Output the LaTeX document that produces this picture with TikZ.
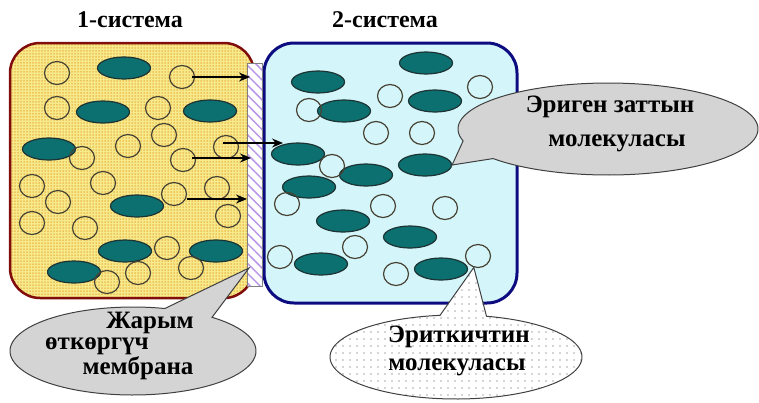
\documentclass[tikz,border=0pt]{standalone}
\usepackage{fontspec}
\setmainfont{Liberation Serif}
\usetikzlibrary{shapes.geometric,arrows.meta,patterns.meta}

\definecolor{boxyellow}{RGB}{246,234,140}
\definecolor{dotorange}{RGB}{228,160,40}
\definecolor{boxred}{RGB}{128,12,12}
\definecolor{boxcyan}{RGB}{212,246,250}
\definecolor{boxblue}{RGB}{12,12,128}
\definecolor{solute}{RGB}{12,112,112}
\definecolor{soluteedge}{RGB}{30,52,52}
\definecolor{ringedge}{RGB}{72,66,52}
\definecolor{hatchviolet}{RGB}{186,150,232}
\definecolor{calloutgray}{RGB}{212,212,212}

\tikzset{
  system1/.style={rectangle, rounded corners=30pt, draw=boxred, line width=2.5pt,
    preaction={fill=boxyellow}, pattern={Dots[distance=3pt,radius=0.75pt]},
    pattern color=dotorange, minimum width=244pt, minimum height=255pt, inner sep=0pt},
  system2/.style={rectangle, rounded corners=30pt, draw=boxblue, line width=3pt,
    fill=boxcyan, minimum width=253pt, minimum height=260pt, inner sep=0pt},
  membrane/.style={rectangle, draw=gray, line width=0.8pt, preaction={fill=white},
    pattern={Lines[angle=-45,distance=7pt,line width=1.5pt]}, pattern color=hatchviolet,
    minimum width=15pt, minimum height=223pt, inner sep=0pt},
  solute/.style={ellipse, draw=soluteedge, line width=1.2pt, fill=solute,
    minimum width=53pt, minimum height=22pt, inner sep=0pt},
  solvent/.style={ellipse, draw=ringedge, line width=1.2pt,
    minimum width=25pt, minimum height=23pt, inner sep=0pt},
  flow/.style={line width=1.3pt, -{Stealth[length=11pt,width=9pt]}},
  bubblegray/.style={draw=black!75, line width=1pt, fill=calloutgray},
  bubbledots/.style={draw=black!75, line width=1pt, preaction={fill=white},
    pattern={Dots[distance=7pt,radius=0.6pt]}, pattern color=black!70},
  caption/.style={font=\fontsize{25}{28}\selectfont\bfseries, inner sep=0pt, anchor=base},
  heading/.style={font=\fontsize{24}{28}\selectfont\bfseries, inner sep=0pt, anchor=base}
}

\begin{document}
\begin{tikzpicture}[x=1pt,y=-1pt]
\useasboundingbox (0,0) rectangle (759,402);

% headings
\node[heading] (h1) at (130,27) {1-система};
\node[heading] (h2) at (385,27) {2-система};

% the two compartments and the membrane between them
\node[system1] (sys1) at (132,170.5) {};
\node[system2] (sys2) at (390.5,173) {};
\node[membrane] (mem) at (254.5,174.5) {};

% compartment 1: solute molecules
\node[solute] (e1) at (124,68) {};
\node[solute] (e2) at (103,112) {};
\node[solute] (e3) at (210,111) {};
\node[solute] (e4) at (49,149) {};
\node[solute] (e5) at (137,206) {};
\node[solute] (e6) at (125,251) {};
\node[solute] (e7) at (216,251) {};
\node[solute] (e8) at (74,272) {};

% compartment 1: solvent molecules
\node[solvent] (c1) at (57,73) {};
\node[solvent] (c2) at (182,77) {};
\node[solvent] (c3) at (57,108) {};
\node[solvent] (c4) at (158,108) {};
\node[solvent] (c5) at (164,135) {};
\node[solvent] (c6) at (128,146) {};
\node[solvent] (c7) at (82,158) {};
\node[solvent] (c8) at (226,147) {};
\node[solvent] (c9) at (183,160) {};
\node[solvent] (c10) at (32,186) {};
\node[solvent] (c11) at (103,183) {};
\node[solvent] (c12) at (217,188) {};
\node[solvent] (c13) at (58,202) {};
\node[solvent] (c14) at (174,194) {};
\node[solvent] (c15) at (32,223) {};
\node[solvent] (c16) at (85,228) {};
\node[solvent] (c17) at (228,216) {};
\node[solvent] (c18) at (167,248) {};
\node[solvent] (c19) at (107,282) {};
\node[solvent] (c20) at (138,273) {};
\node[solvent] (c21) at (191,268) {};

% compartment 2: solute molecules
\node[solute] (r1) at (426,63) {};
\node[solute] (r2) at (318,82) {};
\node[solute] (r3) at (435,101) {};
\node[solute] (r4) at (344,111) {};
\node[solute] (r5) at (298,154) {};
\node[solute] (r6) at (366,175) {};
\node[solute] (r7) at (425,165) {};
\node[solute] (r8) at (309,187) {};
\node[solute] (r9) at (343,221) {};
\node[solute] (r10) at (410,237) {};
\node[solute] (r11) at (321,264) {};
\node[solute] (r12) at (441,269) {};

% compartment 2: solvent molecules
\node[solvent] (s1) at (480,87) {};
\node[solvent] (s2) at (390,96) {};
\node[solvent] (s3) at (309,110) {};
\node[solvent] (s4) at (376,133) {};
\node[solvent] (s5) at (422,133) {};
\node[solvent] (s6) at (332,166) {};
\node[solvent] (s7) at (287,204) {};
\node[solvent] (s8) at (383,206) {};
\node[solvent] (s9) at (445,208) {};
\node[solvent] (s10) at (355,247) {};
\node[solvent] (s11) at (280,257) {};
\node[solvent] (s12) at (478,256) {};
\node[solvent] (s13) at (396,274) {};

% solvent flow towards / through the membrane (horizontal arrows)
\coordinate (in1) at (250,77);
\coordinate (in2) at (283,143);
\coordinate (in3) at (251,158);
\coordinate (in4) at (247,199);
\draw[flow] ([xshift=10pt]c2.center) -- (in1);
\draw[flow] ([xshift=-3pt,yshift=4pt]c8.center) -- (in2);
\draw[flow] ([xshift=9pt,yshift=2pt]c9.center) -- (in3);
\draw[flow] ([xshift=13pt,yshift=-5pt]c14.center) -- (in4);

% callout: solute molecule
\filldraw[bubblegray] plot[domain=165:500, samples=120]
  ({608+150*cos(\x)},{129+46*sin(\x)}) -- (r7.east) -- cycle;
\node[caption] (t1a) at (610,112) {Эриген заттын};
\node[caption] (t1b) at (617,146) {молекуласы};

% callout: semi-permeable membrane
\coordinate (tip2) at (249,268);
\filldraw[bubblegray] plot[domain=310:645, samples=120]
  ({133+123*cos(\x)},{351+44*sin(\x)}) -- (tip2) -- cycle;
\node[caption] (t2a) at (150,328) {Жарым};
\node[caption] (t2b) at (97,349) {өткөргүч};
\node[caption] (t2c) at (138,374) {мембрана};

% callout: solvent molecule
\filldraw[bubbledots] plot[domain=284:622.7, samples=120]
  ({456+126*cos(\x)},{357+42*sin(\x)}) -- (s12.250) -- cycle;
\node[caption] (t3a) at (459,342) {Эриткичтин};
\node[caption] (t3b) at (457,370) {молекуласы};
\end{tikzpicture}
\end{document}
